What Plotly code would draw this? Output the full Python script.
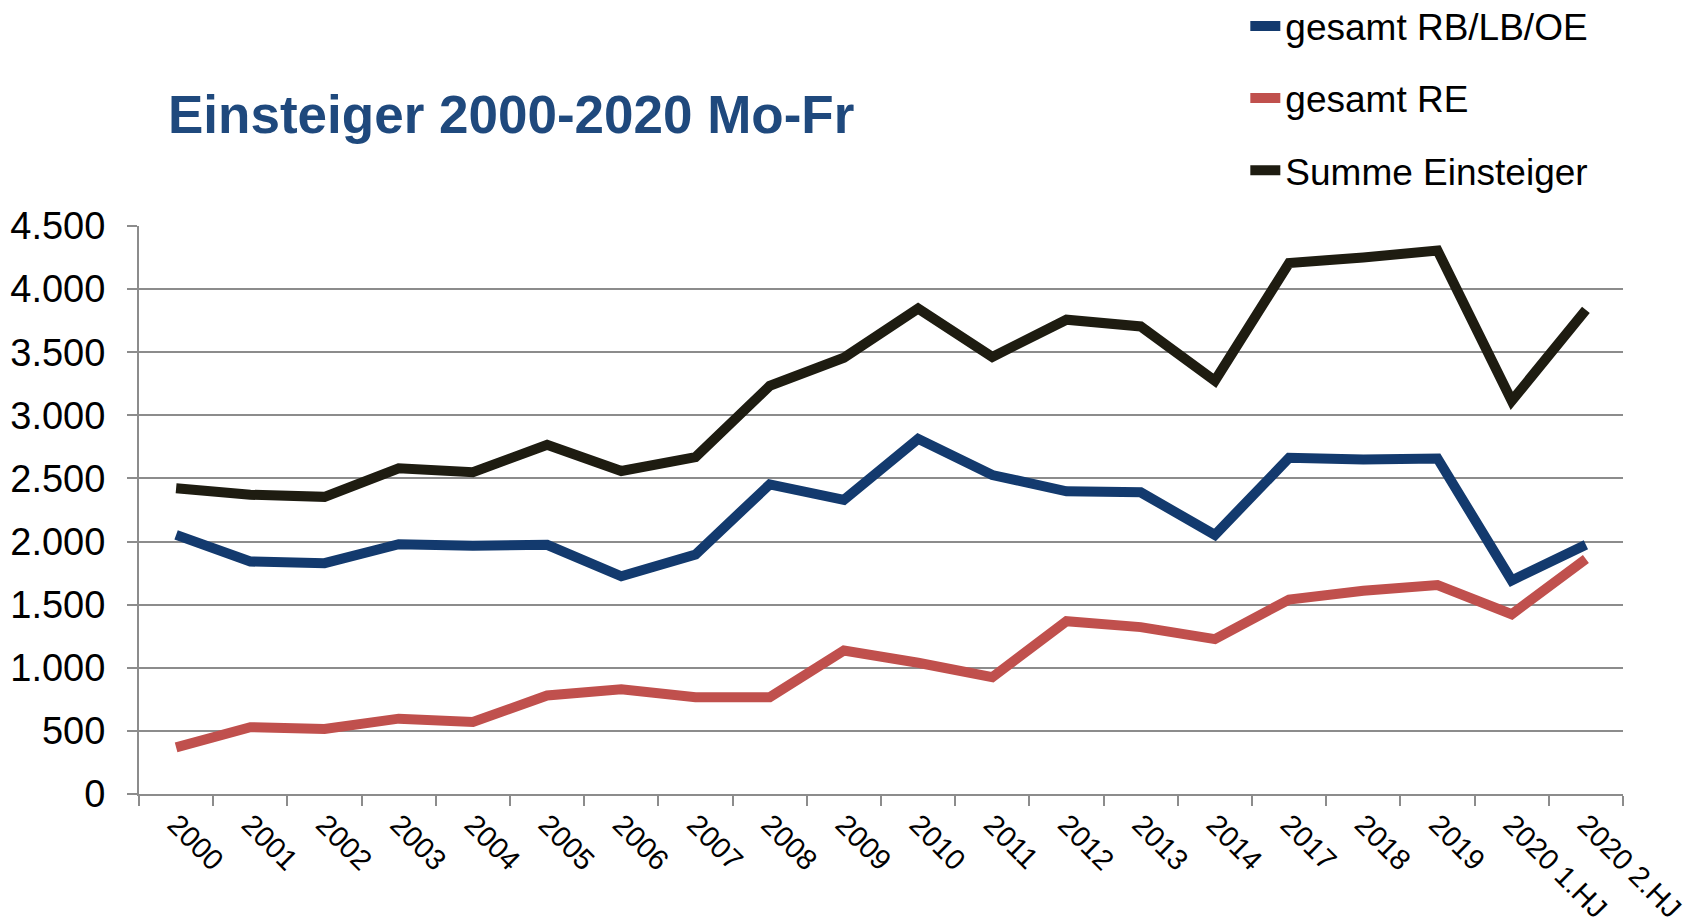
import plotly.graph_objects as go

categories = ["2000", "2001", "2002", "2003", "2004", "2005", "2006", "2007", "2008", "2009",
              "2010", "2011", "2012", "2013", "2014", "2017", "2018", "2019", "2020 1.HJ", "2020 2.HJ"]
rb_lb_oe = [2053, 1842, 1829, 1979, 1966, 1974, 1725, 1897, 2453, 2330,
            2814, 2527, 2398, 2390, 2053, 2663, 2650, 2658, 1692, 1974]
re_vals = [370, 529, 515, 597, 570, 780, 830, 767, 767, 1136,
           1040, 926, 1369, 1322, 1227, 1541, 1610, 1656, 1424, 1862]
summe = [2423, 2371, 2354, 2581, 2549, 2767, 2559, 2669, 3233, 3457,
         3846, 3463, 3758, 3704, 3274, 4207, 4251, 4306, 3115, 3835]
y_ticks = [0, 500, 1000, 1500, 2000, 2500, 3000, 3500, 4000, 4500]

FONT = "Liberation Sans, Arial, sans-serif"

fig = go.Figure()
series = [
    ("gesamt RB/LB/OE", rb_lb_oe, "#133A6E"),
    ("gesamt RE", re_vals, "#C0504D"),
    ("Summe Einsteiger", summe, "#1E1C11"),
]
for i, (name, vals, color) in enumerate(series):
    fig.add_trace(go.Scatter(
        x=categories, y=vals, name=name, mode="lines",
        line=dict(color=color, width=10), legendgroup=f"g{i}",
    ))

fig.update_layout(
    width=1698, height=923,
    margin=dict(l=131, r=83, t=218, b=137, autoexpand=False),
    paper_bgcolor="white", plot_bgcolor="white",
    separators=",.",
    font=dict(family=FONT, size=36, color="black"),
    title=dict(
        text="<b>Einsteiger 2000-2020 Mo-Fr</b>",
        font=dict(family=FONT, size=53, color="#1F497D"),
        x=160 / 1698, xref="container", xanchor="left",
        y=1 - 106 / 923, yref="container", yanchor="middle",
    ),
    showlegend=True,
    legend=dict(
        x=0.7455, xanchor="left", y=1.406, yanchor="top",
        font=dict(family=FONT, size=37, color="black"),
        tracegroupgap=21, bgcolor="rgba(0,0,0,0)",
    ),
    xaxis=dict(
        type="category", tickangle=45, tickson="boundaries",
        ticks="outside", ticklen=10, tickcolor="#8c8c8c", tickwidth=2,
        showline=True, linecolor="#8c8c8c", linewidth=2,
        showgrid=False, tickfont=dict(family=FONT, size=29, color="black"),
        range=[-0.5, len(categories) - 0.5], automargin=False,
    ),
    yaxis=dict(
        range=[0, 4500], tickvals=y_ticks, tickformat=",d",
        ticks="outside", ticklen=10, tickcolor="#8c8c8c", tickwidth=2,
        showline=True, linecolor="#8c8c8c", linewidth=2,
        showgrid=True, gridcolor="#8c8c8c", gridwidth=2,
        zeroline=False, ticklabelstandoff=14, automargin=False,
        tickfont=dict(family=FONT, size=38, color="black"),
    ),
)

fig.write_html("out.html")
